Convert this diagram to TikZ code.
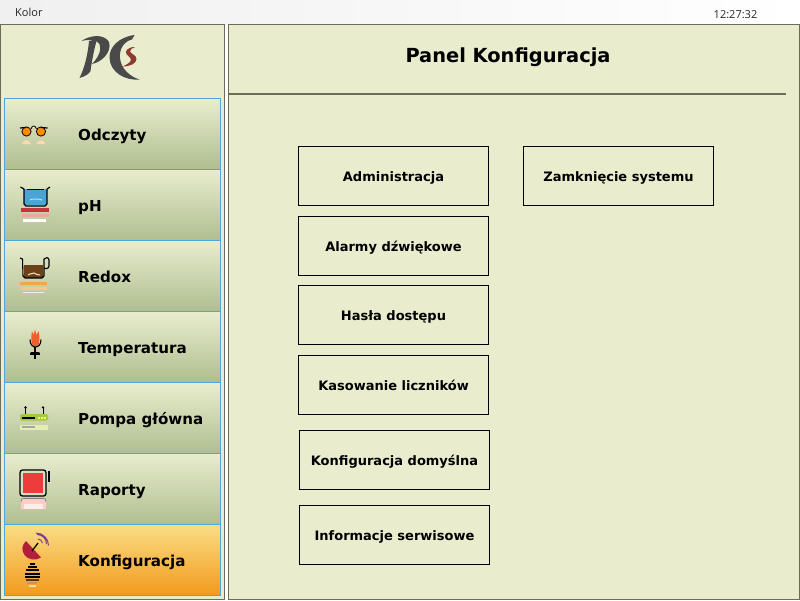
\documentclass[tikz,border=0pt]{standalone}
\usepackage{fontspec}
\setmainfont{DejaVu Sans}
\newfontfamily\uifont{Open Sans}
\definecolor{panelbg}{HTML}{E9EDCE}
\definecolor{panelline}{HTML}{6B6D58}
\definecolor{navline}{HTML}{4FA6DC}
\definecolor{navtop}{HTML}{E9EDCE}
\definecolor{navmid}{HTML}{D5DCB8}
\definecolor{navbot}{HTML}{AFBE90}
\definecolor{seltop}{HTML}{FBDD85}
\definecolor{selmid}{HTML}{F8C460}
\definecolor{selbot}{HTML}{F29A1C}
\definecolor{logogrey}{HTML}{4A4A4A}
\definecolor{logored}{HTML}{8E3A30}
\definecolor{beakerblue}{HTML}{4AA5D6}
\definecolor{barred}{HTML}{C8323A}
\definecolor{barpink}{HTML}{E9A9A0}
\definecolor{brownliq}{HTML}{6B4218}
\definecolor{barorange}{HTML}{F2A64A}
\definecolor{barorangeb}{HTML}{F5C78E}
\definecolor{flame}{HTML}{EE5F2C}
\definecolor{pumpgreen}{HTML}{A4C83F}
\definecolor{pumppale}{HTML}{E3EDB4}
\definecolor{repred}{HTML}{EE3B3B}
\definecolor{dishred}{HTML}{B41E3C}
\definecolor{wavepurple}{HTML}{7E3F8E}
\tikzset{
  panelbox/.style={draw=panelline,line width=1pt,fill=panelbg},
  navbtn/.style={draw=navline,line width=0.8pt,top color=navtop,middle color=navmid,bottom color=navbot},
  navsel/.style={draw=navline,line width=0.8pt,top color=seltop,middle color=selmid,bottom color=selbot},
  navlabel/.style={anchor=base west,inner sep=0pt,font=\fontsize{15.1}{16}\selectfont\bfseries,text=black},
  cfgbtn/.style={draw=black,line width=1pt,fill=panelbg,minimum width=190pt,minimum height=59pt,inner sep=0pt,text height=13pt,text depth=2pt,font=\fontsize{13}{14}\selectfont\bfseries,text=black},
  toplabel/.style={inner sep=0pt,font=\uifont\fontsize{11}{12}\selectfont,text=black!85}
}
\begin{document}
\begin{tikzpicture}[x=1pt,y=-1pt]
\useasboundingbox (0,0) rectangle (800,600);
\fill[white] (0,0) rectangle (800,600);
\shade[left color=black!6,right color=white] (0,0) rectangle (800,24);
\node[toplabel,anchor=west] (kolor) at (15,12) {Kolor};
\node[toplabel] (clock) at (735.5,15) {12:27:32};
% panels
\draw[panelbox] (0.5,24.5) rectangle (224.5,599.5);
\draw[panelbox] (228.5,24.5) rectangle (799.5,599.5);
\node[inner sep=0pt,font=\fontsize{19.4}{22}\selectfont\bfseries] (title) at (508,57) {Panel Konfiguracja};
\draw[panelline,line width=2pt] (229,94) -- (786,94);
% logo
\fill[logogrey] (81.5,41) .. controls (90,35) and (104,33.5) .. (109,42) .. controls (112,52) and (102,62) .. (92,64) .. controls (98,58) and (102,50) .. (99.5,44) .. controls (97,39.5) and (88,39) .. (81.5,41) -- cycle;
\fill[logogrey] (89,41) .. controls (88,53) and (85,67) .. (79.5,78) .. controls (85,76.5) and (89,74) .. (90.5,71) .. controls (92,60) and (94,50) .. (97,39) -- cycle;
\fill[logogrey] (134.5,35) .. controls (119,37) and (109,47) .. (109.5,58) .. controls (110,72) and (125,81) .. (139.5,79.5) .. controls (130,76.5) and (121,69) .. (120,58) .. controls (119,48) and (125,41) .. (132,39.5) -- cycle;
\fill[logored] (135,47) .. controls (128,47) and (124.5,51) .. (126.5,54) .. controls (128.5,57) and (132,58) .. (130.5,61) .. controls (129.5,63) and (126,65) .. (122.5,66.5) .. controls (130,66.5) and (136.5,63.5) .. (136.5,59) .. controls (136.5,55) and (131,54) .. (130,51.5) .. controls (130,49.5) and (132,48) .. (135,47) -- cycle;
% navigation
\draw[navbtn] (4.5,98.5) rectangle (220.5,169);
\draw[navbtn] (4.5,169.5) rectangle (220.5,240);
\draw[navbtn] (4.5,240.5) rectangle (220.5,311);
\draw[navbtn] (4.5,311.5) rectangle (220.5,382);
\draw[navbtn] (4.5,382.5) rectangle (220.5,453.5);
\draw[navbtn] (4.5,453.5) rectangle (220.5,524.5);
\draw[navsel] (4.5,524.5) rectangle (220.5,595.5);
\node[navlabel] (n1) at (78,140) {Odczyty};
\node[navlabel] (n2) at (78,211) {pH};
\node[navlabel] (n3) at (78,282) {Redox};
\node[navlabel] (n4) at (78,353) {Temperatura};
\node[navlabel] (n5) at (78,424) {Pompa główna};
\node[navlabel] (n6) at (78,495) {Raporty};
\node[navlabel] (n7) at (78,566) {Konfiguracja};
% icon: glasses
\fill[orange!90!yellow,draw=black,line width=0.8pt] (26.5,131.5) circle (4.6);
\fill[orange!90!yellow,draw=black,line width=0.8pt] (41,131.5) circle (4.6);
\draw[black,line width=1.2pt] (20,128) -- (26,127.5) (47.5,128) -- (41,127.5);
\draw[black,line width=0.7pt] (31,129) .. controls (32,125) and (35.5,125) .. (36.5,129);
\fill[orange!30!white] (22,144) .. controls (24,139) and (29,139) .. (31,144) -- cycle;
\fill[orange!30!white] (36.5,144) .. controls (38.5,139) and (43.5,139) .. (45.5,144) -- cycle;
% icon: pH
\fill[beakerblue] (24,189) rectangle (47,205);
\draw[black,line width=1.2pt,line join=round] (20.5,187) -- (24,189) -- (24,204) -- (26,206) -- (45,206) -- (47,204) -- (47,189) -- (50,187);
\draw[black,line width=0.8pt] (27,189) -- (44,189);
\draw[white!70!cyan,line width=1pt] (30,200) .. controls (33,198) and (35,200) .. (36,199) .. controls (37,198) and (40,200) .. (42,200);
\fill[barred] (21,208) rectangle (49,212);
\fill[barpink] (21.5,213.5) rectangle (48.5,216.5);
\fill[white] (23,218.5) rectangle (46,222);
% icon: Redox
\fill[brownliq] (24,265) rectangle (43,278);
\draw[black,line width=1.1pt,line join=round] (20,258) -- (22.5,259) -- (23,276) -- (25,278) -- (42,278) -- (44,276) -- (44,259) .. controls (45,257) and (49,257) .. (49,260) -- (49,266) .. controls (49,269) and (45,269) .. (44.5,268);
\draw[orange!20!white,line width=1pt] (28,275) .. controls (31,273) and (33,274) .. (34,273) .. controls (36,274) and (37,275) .. (40,275);
\fill[barorange] (20,281.5) rectangle (47,285);
\fill[barorangeb] (20.5,287) rectangle (46.5,289.5);
\fill[white!85!gray] (23,291.5) rectangle (44,293);
% icon: Temperature
\fill[flame] (32,331) -- (33.5,335) -- (35,329.5) -- (36.5,335) -- (38.5,331) .. controls (40,337) and (39.5,343) .. (38,346) -- (33,346) .. controls (31,343) and (31,337) .. (32,331) -- cycle;
\draw[black,line width=1.1pt] (30,339.5) .. controls (30,345) and (33,347) .. (35.5,347) .. controls (38,347) and (41,345) .. (41,339.5);
\draw[black,line width=1.4pt] (35,347) -- (35,359);
\fill[black] (30,352) -- (40,352) -- (35,355) -- cycle;
\draw[black,line width=1.2pt] (30,354) -- (40,354);
% icon: pump
\fill[pumpgreen,rounded corners=1.5pt] (20,414) rectangle (48,420.5);
\fill[black] (22,416.5) rectangle (35,418.5);
\fill[yellow!60!white] (38,416.5) rectangle (39.5,418.5);
\fill[yellow!60!white] (41,416.5) rectangle (42.5,418.5);
\fill[yellow!60!white] (44,416.5) rectangle (45.5,418.5);
\draw[black,line width=0.9pt] (25.5,414) -- (25.5,407);
\draw[black,line width=0.9pt] (43,414) -- (43,407);
\fill[black] (24,408) -- (27,408) -- (25.5,406) -- cycle;
\fill[black] (41.5,408) -- (44.5,408) -- (43,406) -- cycle;
\fill[pumppale] (20,425) rectangle (48,429.5);
\fill[gray!70] (22,426) rectangle (35,427.5);
% icon: report
\fill[panelbg!85!gray,draw=black,line width=1.3pt,rounded corners=2.5pt] (20,470) rectangle (46,496);
\fill[repred] (23,473) rectangle (43,493);
\draw[black,line width=1.4pt] (49,471) -- (49,482);
\fill[white!80!red] (21,509) -- (21,501) .. controls (21,499) and (22,498.5) .. (24,498.5) -- (43,498.5) .. controls (45,498.5) and (46,499) .. (46,501) -- (46,509) -- cycle;
\fill[white!92!red] (24,504) rectangle (43,509);
\draw[gray,line width=0.7pt] (21,502) .. controls (21,499) and (22,498.5) .. (24,498.5) -- (43,498.5) .. controls (45,498.5) and (46,499) .. (46,502);
% icon: dish
\fill[dishred] (26,541) -- (41,557.5) .. controls (36,561) and (28,560) .. (24.5,555) .. controls (21,550) and (22,545) .. (26,541) -- cycle;
\draw[black,line width=1.3pt] (32,551) -- (38,543);
\draw[wavepurple,line width=1pt] (38,539) arc (-90:-5:4.5) (37,534.5) arc (-90:0:9.5) (36,533) arc (-90:0:12.5);
\fill[black] (30,563) rectangle (35,564.5);
\fill[black] (28,566) rectangle (37,567.5);
\fill[black] (26,569) rectangle (39,570.5);
\fill[black] (24.5,573) rectangle (40,574.5);
\fill[black] (24.5,576) rectangle (40,577.5);
\fill[black!60!orange] (26,579) rectangle (39,580.5);
\fill[black!40!orange!60!white] (27,582) rectangle (37,583.5);
\fill[white!70!orange] (29,585) rectangle (36,587);
% configuration buttons
\node[cfgbtn] (b1) at (393.5,176) {Administracja};
\node[cfgbtn] (b2) at (393.5,246) {Alarmy dźwiękowe};
\node[cfgbtn] (b3) at (393.5,315) {Hasła dostępu};
\node[cfgbtn] (b4) at (393.5,385) {Kasowanie liczników};
\node[cfgbtn] (b5) at (394.5,460) {Konfiguracja domyślna};
\node[cfgbtn] (b6) at (394.5,535) {Informacje serwisowe};
\node[cfgbtn] (b7) at (618.5,176) {Zamknięcie systemu};
\end{tikzpicture}
\end{document}
